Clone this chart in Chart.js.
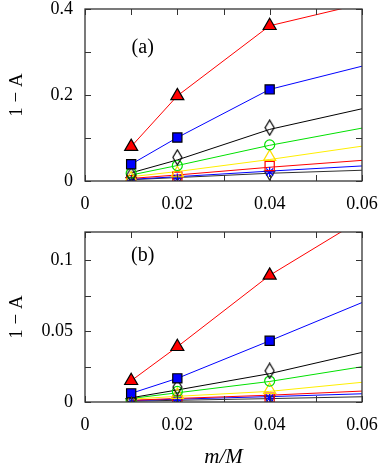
<!DOCTYPE html>
<html>
<head>
<meta charset="utf-8">
<script src="https://cdn.jsdelivr.net/npm/chart.js@4/dist/chart.umd.min.js"></script>
<style>
  html, body { margin: 0; padding: 0; background: #fff; }
  #wrap { position: relative; width: 381px; height: 470px; }
  canvas { position: absolute; left: 0; }
  #ca { top: 0; }
  #cb { top: 215px; }
</style>
</head>
<body>
<div id="wrap">
  <canvas id="ca" width="381" height="215"></canvas>
  <canvas id="cb" width="381" height="255"></canvas>
</div>
<script>
// ---------- data ----------
const markerX = [0.01, 0.02, 0.04];
const lineX = [0.01, 0.02, 0.04, 0.06];

const xTickValues = [0, 0.02, 0.04, 0.06];
const xTickLabels = ['0', '0.02', '0.04', '0.06'];
const yTickValuesA = [0, 0.2, 0.4];
const yTickLabelsA = ['0', '0.2', '0.4'];
const yTickValuesB = [0, 0.05, 0.1];
const yTickLabelsB = ['0', '0.05', '0.1'];

// panel (a): markers and fitted lines
const a_redTri    = [0.080, 0.198, 0.361];
const a_redTriL   = [0.080, 0.198, 0.361, 0.412];
const a_blueSq    = [0.039, 0.101, 0.213];
const a_blueSqL   = [0.039, 0.101, 0.213, 0.267];
const a_blackDia  = [0.014, 0.055, 0.124];
const a_blackDiaL = [0.019, 0.049, 0.120, 0.168];
const a_greenCir  = [0.018, 0.036, 0.084];
const a_greenCirL = [0.014, 0.036, 0.083, 0.123];
const a_yellowTri = [0.006, 0.018, 0.056];
const a_yellowTriL= [0.010, 0.022, 0.050, 0.081];
const a_redSq     = [0.002, 0.010, 0.035];
const a_redSqL    = [0.006, 0.014, 0.032, 0.048];
const a_blueStar  = [0.001, 0.006, 0.021];
const a_blueStarL = [0.004, 0.010, 0.023, 0.035];
const a_grayTri   = [0.001, 0.004, 0.016];
const a_grayTriL  = [0.003, 0.008, 0.018, 0.025];

// panel (b)
const b_redTri    = [0.0150, 0.0390, 0.0894];
const b_redTriL   = [0.0150, 0.0390, 0.0894, 0.1290];
const b_blueSq    = [0.0061, 0.0167, 0.0432];
const b_blueSqL   = [0.0061, 0.0167, 0.0432, 0.0702];
const b_blackDia  = [0.0020, 0.0105, 0.0220];
const b_blackDiaL = [0.0030, 0.0085, 0.0200, 0.0350];
const b_greenCir  = [0.0012, 0.0075, 0.0148];
const b_greenCirL = [0.0025, 0.0065, 0.0145, 0.0249];
const b_yellowTri = [0.0008, 0.0050, 0.0085];
const b_yellowTriL= [0.0020, 0.0040, 0.0075, 0.0139];
const b_redSq     = [0.0004, 0.0015, 0.0030];
const b_redSqL    = [0.0012, 0.0025, 0.0048, 0.0077];
const b_blueStar  = [0.0003, 0.0012, 0.0028];
const b_blueStarL = [0.0010, 0.0020, 0.0038, 0.0058];
const b_grayTri   = [0.0002, 0.0008, 0.0020];
const b_grayTriL  = [0.0006, 0.0012, 0.0024, 0.0037];

// ---------- helpers ----------
const pts = (xs, ys) => xs.map((x, i) => ({ x: x, y: ys[i] }));

// tall open diamond marker (gnuplot style)
function makeDiamond() {
  const c = document.createElement('canvas');
  c.width = 11; c.height = 17;
  const g = c.getContext('2d');
  g.strokeStyle = '#000';
  g.lineWidth = 1.2;
  g.beginPath();
  g.moveTo(5.5, 1); g.lineTo(10, 8.5); g.lineTo(5.5, 16); g.lineTo(1, 8.5); g.closePath();
  g.stroke();
  return c;
}
const diamondImg = makeDiamond();

const styles = [
  { color: '#ff0000', style: 'triangle', fill: '#ff0000', edge: '#000', r: 7.5, rot: 0 },
  { color: '#0000ff', style: 'rect',     fill: '#0000ff', edge: '#000', r: 6.5, rot: 0 },
  { color: '#000000', style: diamondImg, fill: 'rgba(0,0,0,0)', edge: '#000', r: 6, rot: 0 },
  { color: '#00e000', style: 'circle',   fill: 'rgba(0,0,0,0)', edge: '#00e000', r: 5, rot: 0 },
  { color: '#ffee00', style: 'triangle', fill: 'rgba(0,0,0,0)', edge: '#ffdd00', r: 7, rot: 0 },
  { color: '#ff0000', style: 'rect',     fill: 'rgba(0,0,0,0)', edge: '#ff0000', r: 6.5, rot: 0 },
  { color: '#0000ff', style: 'star',     fill: 'rgba(0,0,0,0)', edge: '#0000ff', r: 5, rot: 0 },
  { color: '#303030', style: 'triangle', fill: 'rgba(0,0,0,0)', edge: '#303030', r: 6, rot: 180 }
];

function buildDatasets(markers, lines) {
  const ds = [];
  markers.forEach((m, i) => {
    const s = styles[i];
    ds.push({
      type: 'scatter',
      data: pts(markerX, m),
      showLine: false,
      pointStyle: s.style,
      pointRotation: s.rot,
      pointRadius: s.r,
      pointBackgroundColor: s.fill,
      pointBorderColor: s.edge,
      pointBorderWidth: 1.2,
      order: 0
    });
  });
  lines.forEach((l, i) => {
    const s = styles[i];
    ds.push({
      type: 'line',
      data: pts(lineX, l),
      borderColor: s.color,
      borderWidth: 1,
      pointRadius: 0,
      fill: false,
      tension: 0,
      order: 1
    });
  });
  return ds;
}

// inward ticks + frame, drawn from the chart's own scales
const frameTicks = {
  id: 'frameTicks',
  afterDatasetsDraw(chart) {
    const { ctx, chartArea: a, scales } = chart;
    const xs = scales.x, ys = scales.y;
    ctx.save();
    ctx.strokeStyle = '#333';
    ctx.lineWidth = 1;
    const len = 6;
    ctx.beginPath();
    xs.ticks.forEach(t => {
      const px = Math.round(xs.getPixelForValue(t.value)) + 0.5;
      ctx.moveTo(px, a.bottom); ctx.lineTo(px, a.bottom - len);
      ctx.moveTo(px, a.top); ctx.lineTo(px, a.top + len);
    });
    ys.ticks.forEach(t => {
      const py = Math.round(ys.getPixelForValue(t.value)) + 0.5;
      ctx.moveTo(a.left, py); ctx.lineTo(a.left + len, py);
      ctx.moveTo(a.right, py); ctx.lineTo(a.right - len, py);
    });
    ctx.stroke();
    ctx.lineWidth = 1.3;
    ctx.strokeRect(a.left, a.top, a.right - a.left, a.bottom - a.top);
    // panel label
    const lab = chart.options.plugins.panelLabel;
    if (lab) {
      ctx.fillStyle = '#000';
      ctx.font = '20px "Liberation Serif"';
      ctx.textAlign = 'center';
      ctx.textBaseline = 'middle';
      ctx.fillText(lab.text, xs.getPixelForValue(lab.x), ys.getPixelForValue(lab.y));
    }
    ctx.restore();
  }
};

const tickFont = { family: 'Liberation Serif', size: 18 };

function labelFor(values, labels) {
  return function (v) {
    for (let i = 0; i < values.length; i++) {
      if (Math.abs(v - values[i]) < 1e-9) return labels[i];
    }
    return '';
  };
}

function makeChart(id, markers, lines, cfg) {
  return new Chart(document.getElementById(id), {
    type: 'scatter',
    data: { datasets: buildDatasets(markers, lines) },
    options: {
      responsive: false,
      animation: false,
      devicePixelRatio: 1,
      layout: { padding: { top: cfg.padTop, right: 19, left: 0, bottom: 0 } },
      plugins: {
        legend: { display: false },
        tooltip: { enabled: false },
        panelLabel: cfg.panel
      },
      scales: {
        x: {
          type: 'linear', min: 0, max: 0.06,
          grid: { display: false, drawTicks: false },
          border: { display: false },
          ticks: {
            stepSize: 0.01, autoSkip: false, maxRotation: 0, padding: 12,
            color: '#000', font: tickFont,
            callback: labelFor(xTickValues, xTickLabels)
          },
          title: cfg.xTitle ? {
            display: true, text: 'm/M', color: '#000',
            font: { family: 'Liberation Serif', size: 21, style: 'italic' },
            padding: { top: 0, bottom: 0 }
          } : { display: false },
          afterFit(s) { s.height = cfg.xHeight; s.paddingLeft = 0; s.paddingRight = 0; }
        },
        y: {
          type: 'linear', min: 0, max: cfg.yMax,
          grid: { display: false, drawTicks: false },
          border: { display: false },
          ticks: {
            stepSize: cfg.yStep, autoSkip: false, padding: 12,
            color: '#000', font: tickFont,
            callback: labelFor(cfg.yVals, cfg.yLabs)
          },
          title: {
            display: true, text: '1 − A', color: '#000',
            font: { family: 'Liberation Serif', size: 19 },
            padding: { top: 6, bottom: 0 }
          },
          afterFit(s) { s.width = 85; s.paddingTop = 0; s.paddingBottom = 0; }
        }
      }
    },
    plugins: [frameTicks]
  });
}

makeChart('ca',
  [a_redTri, a_blueSq, a_blackDia, a_greenCir, a_yellowTri, a_redSq, a_blueStar, a_grayTri],
  [a_redTriL, a_blueSqL, a_blackDiaL, a_greenCirL, a_yellowTriL, a_redSqL, a_blueStarL, a_grayTriL],
  { padTop: 9, xHeight: 34, yMax: 0.4, yStep: 0.1, yVals: yTickValuesA, yLabs: yTickLabelsA,
    xTitle: false, panel: { text: '(a)', x: 0.0125, y: 0.309 } });

makeChart('cb',
  [b_redTri, b_blueSq, b_blackDia, b_greenCir, b_yellowTri, b_redSq, b_blueStar, b_grayTri],
  [b_redTriL, b_blueSqL, b_blackDiaL, b_greenCirL, b_yellowTriL, b_redSqL, b_blueStarL, b_grayTriL],
  { padTop: 17, xHeight: 68, yMax: 0.12, yStep: 0.025, yVals: yTickValuesB, yLabs: yTickLabelsB,
    xTitle: true, panel: { text: '(b)', x: 0.0125, y: 0.1035 } });
</script>
</body>
</html>
